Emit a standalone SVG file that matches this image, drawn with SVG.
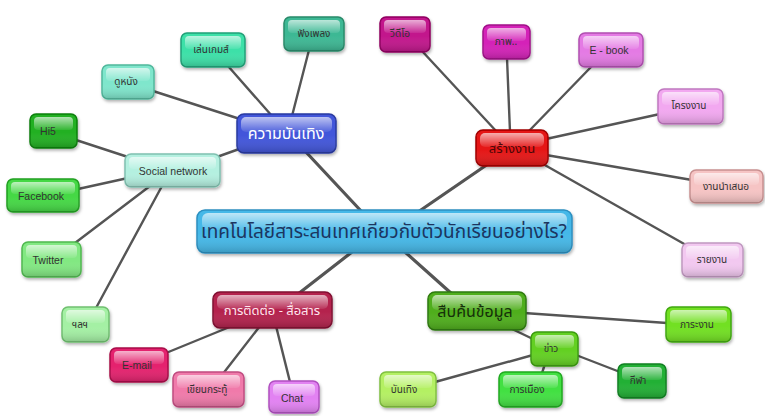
<svg xmlns="http://www.w3.org/2000/svg" width="765" height="416" viewBox="0 0 765 416">
<defs>
<linearGradient id="gloss" x1="0" y1="0" x2="0" y2="1"><stop offset="0" stop-color="#fff" stop-opacity="0.65"/><stop offset="1" stop-color="#fff" stop-opacity="0.08"/></linearGradient>
<linearGradient id="shade" x1="0" y1="0" x2="0" y2="1"><stop offset="0" stop-color="#fff" stop-opacity="0"/><stop offset="0.55" stop-color="#fff" stop-opacity="0"/><stop offset="1" stop-color="#000" stop-opacity="0.18"/></linearGradient>
<filter id="sh" x="-10%" y="-10%" width="130%" height="140%"><feDropShadow dx="1" dy="2" stdDeviation="1.5" flood-color="#000" flood-opacity="0.3"/></filter>
</defs>
<style>
.n rect.b{stroke-width:1.5;filter:url(#sh)}
.n rect.s{fill:url(#shade);stroke:none}
.n rect.g{fill:url(#gloss);stroke:none}
text{font-family:"Noto Sans Thai","Noto Sans","DejaVu Sans","Liberation Sans",sans-serif;text-anchor:middle;dominant-baseline:central}
.lf{font-size:10px;fill:#333}
.lfe{font-size:10.5px;fill:#333;font-family:"Liberation Sans",Arial,sans-serif}
#connectors line{stroke:#555;stroke-linecap:round}
.t1{stroke-width:3.2}
.t2{stroke-width:2.4}
</style>
<rect width="765" height="416" fill="#fff"/>
<g id="connectors">
<line class="t1" x1="362" y1="212" x2="305" y2="151"/>
<line class="t1" x1="418" y1="212" x2="488" y2="164"/>
<line class="t1" x1="352" y1="252" x2="298" y2="294"/>
<line class="t1" x1="405" y1="252" x2="452" y2="294"/>
<line class="t2" x1="292" y1="116" x2="309" y2="50"/>
<line class="t2" x1="272" y1="116" x2="228" y2="66"/>
<line class="t2" x1="240" y1="119" x2="153" y2="91"/>
<line class="t2" x1="242" y1="148" x2="214" y2="158"/>
<line class="t2" x1="128" y1="157" x2="76" y2="140"/>
<line class="t2" x1="128" y1="178" x2="78" y2="189"/>
<line class="t2" x1="150" y1="186" x2="75" y2="243"/>
<line class="t2" x1="162" y1="186" x2="96" y2="308"/>
<line class="t2" x1="497" y1="132" x2="422" y2="51"/>
<line class="t2" x1="510" y1="132" x2="507" y2="58"/>
<line class="t2" x1="528" y1="132" x2="592" y2="66"/>
<line class="t2" x1="546" y1="139" x2="660" y2="114"/>
<line class="t2" x1="546" y1="155" x2="692" y2="180"/>
<line class="t2" x1="543" y1="164" x2="686" y2="245"/>
<line class="t2" x1="232" y1="326" x2="166" y2="353"/>
<line class="t2" x1="260" y1="326" x2="222" y2="375"/>
<line class="t2" x1="276" y1="326" x2="290" y2="382"/>
<line class="t2" x1="524" y1="313" x2="667" y2="323"/>
<line class="t2" x1="510" y1="328" x2="535" y2="340"/>
<line class="t2" x1="533" y1="355" x2="435" y2="382"/>
<line class="t2" x1="545" y1="364" x2="542" y2="373"/>
<line class="t2" x1="576" y1="355" x2="620" y2="372"/>
</g>
<g id="central" class="n"><rect class="b" x="197" y="210" width="375" height="43" rx="8" fill="#45b8e8" stroke="#2b8fc0"/><rect class="s" x="197" y="210" width="375" height="43" rx="8"/><rect class="g" x="202" y="213" width="365" height="17" rx="6"/><text x="384" y="232" font-size="19" fill="#1c3560">เทคโนโลยีสาระสนเทศเกียวกับตัวนักเรียนอย่างไร?</text></g>
<g id="ent" class="n"><rect class="b" x="237" y="114" width="99" height="39" rx="7" fill="#4257da" stroke="#2a3aa0"/><rect class="s" x="237" y="114" width="99" height="39" rx="7"/><rect class="g" x="241" y="117" width="91" height="15" rx="5"/><text x="286" y="134" font-size="16" fill="#fff">ความบันเทิง</text></g>
<g id="create" class="n"><rect class="b" x="476" y="130" width="72" height="36" rx="7" fill="#e51818" stroke="#a00000"/><rect class="s" x="476" y="130" width="72" height="36" rx="7"/><rect class="g" x="480" y="133" width="64" height="14" rx="5"/><text x="512" y="149" font-size="13" fill="#4a0808">สร้างงาน</text></g>
<g id="comm" class="n"><rect class="b" x="213" y="292" width="119" height="36" rx="7" fill="#b4224e" stroke="#801030"/><rect class="s" x="213" y="292" width="119" height="36" rx="7"/><rect class="g" x="217" y="295" width="111" height="14" rx="5"/><text x="272" y="311" font-size="13" fill="#ffe6ee">การติดต่อ - สื่อสาร</text></g>
<g id="search" class="n"><rect class="b" x="428" y="292" width="98" height="38" rx="7" fill="#4fae1e" stroke="#2f7a10"/><rect class="s" x="428" y="292" width="98" height="38" rx="7"/><rect class="g" x="432" y="295" width="90" height="15" rx="5"/><text x="475" y="312" font-size="16" fill="#16300a">สืบค้นข้อมูล</text></g>
<g id="music" class="n"><rect class="b" x="284" y="17" width="60" height="34" rx="6" fill="#3db894" stroke="#2a8a6a"/><rect class="s" x="284" y="17" width="60" height="34" rx="6"/><rect class="g" x="288" y="20" width="52" height="13" rx="4"/><text class="lf" x="314" y="34">ฟังเพลง</text></g>
<g id="game" class="n"><rect class="b" x="181" y="33" width="64" height="34" rx="6" fill="#3ee0a8" stroke="#20a078"/><rect class="s" x="181" y="33" width="64" height="34" rx="6"/><rect class="g" x="185" y="36" width="56" height="13" rx="4"/><text class="lf" x="211" y="50">เล่นเกมส์</text></g>
<g id="movie" class="n"><rect class="b" x="102" y="65" width="52" height="34" rx="6" fill="#7fe6cc" stroke="#50b89c"/><rect class="s" x="102" y="65" width="52" height="34" rx="6"/><rect class="g" x="106" y="68" width="44" height="13" rx="4"/><text class="lf" x="126" y="82">ดูหนัง</text></g>
<g id="social" class="n"><rect class="b" x="125" y="154" width="95" height="33" rx="6" fill="#b4f0e0" stroke="#80c0b0"/><rect class="s" x="125" y="154" width="95" height="33" rx="6"/><rect class="g" x="129" y="157" width="87" height="12" rx="4"/><text class="lfe" x="173" y="171">Social network</text></g>
<g id="hi5" class="n"><rect class="b" x="30" y="114" width="47" height="34" rx="6" fill="#22b022" stroke="#0c800c"/><rect class="s" x="30" y="114" width="47" height="34" rx="6"/><rect class="g" x="34" y="117" width="39" height="13" rx="4"/><text class="lfe" x="48" y="131">Hi5</text></g>
<g id="facebook" class="n"><rect class="b" x="7" y="179" width="72" height="33" rx="6" fill="#44d844" stroke="#20a020"/><rect class="s" x="7" y="179" width="72" height="33" rx="6"/><rect class="g" x="11" y="182" width="64" height="12" rx="4"/><text class="lfe" x="41" y="196">Facebook</text></g>
<g id="twitter" class="n"><rect class="b" x="22" y="242" width="59" height="35" rx="6" fill="#82e882" stroke="#50b850"/><rect class="s" x="22" y="242" width="59" height="35" rx="6"/><rect class="g" x="26" y="245" width="51" height="13" rx="4"/><text class="lfe" x="48" y="260">Twitter</text></g>
<g id="etc" class="n"><rect class="b" x="62" y="307" width="47" height="35" rx="6" fill="#a4f0a4" stroke="#70c070"/><rect class="s" x="62" y="307" width="47" height="35" rx="6"/><rect class="g" x="66" y="310" width="39" height="13" rx="4"/><text class="lf" x="80" y="325">ฯลฯ</text></g>
<g id="video" class="n"><rect class="b" x="380" y="17" width="50" height="35" rx="6" fill="#c2128c" stroke="#900060"/><rect class="s" x="380" y="17" width="50" height="35" rx="6"/><rect class="g" x="384" y="20" width="42" height="13" rx="4"/><text class="lf" x="400" y="34">วีดีโอ</text></g>
<g id="image" class="n"><rect class="b" x="483" y="25" width="47" height="34" rx="6" fill="#d424b8" stroke="#a01088"/><rect class="s" x="483" y="25" width="47" height="34" rx="6"/><rect class="g" x="487" y="28" width="39" height="13" rx="4"/><text class="lf" x="506" y="42">ภาพ..</text></g>
<g id="ebook" class="n"><rect class="b" x="579" y="33" width="64" height="34" rx="6" fill="#e47ae4" stroke="#b050b0"/><rect class="s" x="579" y="33" width="64" height="34" rx="6"/><rect class="g" x="583" y="36" width="56" height="13" rx="4"/><text class="lfe" x="609" y="50">E - book</text></g>
<g id="project" class="n"><rect class="b" x="658" y="89" width="65" height="35" rx="6" fill="#f2a8f0" stroke="#c078c0"/><rect class="s" x="658" y="89" width="65" height="35" rx="6"/><rect class="g" x="662" y="92" width="57" height="13" rx="4"/><text class="lf" x="689" y="106">โครงงาน</text></g>
<g id="present" class="n"><rect class="b" x="690" y="170" width="73" height="33" rx="6" fill="#f6c4c4" stroke="#c89090"/><rect class="s" x="690" y="170" width="73" height="33" rx="6"/><rect class="g" x="694" y="173" width="65" height="12" rx="4"/><text class="lf" x="726" y="187">งานนำเสนอ</text></g>
<g id="report" class="n"><rect class="b" x="682" y="243" width="61" height="34" rx="6" fill="#f2c8f0" stroke="#c098c0"/><rect class="s" x="682" y="243" width="61" height="34" rx="6"/><rect class="g" x="686" y="246" width="53" height="13" rx="4"/><text class="lf" x="712" y="260">รายงาน</text></g>
<g id="email" class="n"><rect class="b" x="110" y="348" width="58" height="34" rx="6" fill="#e4206e" stroke="#a80c48"/><rect class="s" x="110" y="348" width="58" height="34" rx="6"/><rect class="g" x="114" y="351" width="50" height="13" rx="4"/><text class="lfe" x="137" y="365">E-mail</text></g>
<g id="webboard" class="n"><rect class="b" x="173" y="372" width="71" height="35" rx="6" fill="#f07aaa" stroke="#c04c80"/><rect class="s" x="173" y="372" width="71" height="35" rx="6"/><rect class="g" x="177" y="375" width="63" height="13" rx="4"/><text class="lf" x="207" y="390">เขียนกระทู้</text></g>
<g id="chat" class="n"><rect class="b" x="269" y="381" width="50" height="32" rx="6" fill="#e282f2" stroke="#b050c0"/><rect class="s" x="269" y="381" width="50" height="32" rx="6"/><rect class="g" x="273" y="384" width="42" height="12" rx="4"/><text class="lfe" x="292" y="398">Chat</text></g>
<g id="burden" class="n"><rect class="b" x="666" y="307" width="65" height="35" rx="6" fill="#72e020" stroke="#40a810"/><rect class="s" x="666" y="307" width="65" height="35" rx="6"/><rect class="g" x="670" y="310" width="57" height="13" rx="4"/><text class="lf" x="697" y="325">ภาระงาน</text></g>
<g id="news" class="n"><rect class="b" x="531" y="332" width="47" height="34" rx="6" fill="#64d020" stroke="#3a9a10"/><rect class="s" x="531" y="332" width="47" height="34" rx="6"/><rect class="g" x="535" y="335" width="39" height="13" rx="4"/><text class="lf" x="551" y="349">ข่าว</text></g>
<g id="entertain" class="n"><rect class="b" x="380" y="372" width="56" height="35" rx="6" fill="#b4f064" stroke="#80c040"/><rect class="s" x="380" y="372" width="56" height="35" rx="6"/><rect class="g" x="384" y="375" width="48" height="13" rx="4"/><text class="lf" x="404" y="390">บันเทิง</text></g>
<g id="politics" class="n"><rect class="b" x="499" y="372" width="63" height="35" rx="6" fill="#42e042" stroke="#20a820"/><rect class="s" x="499" y="372" width="63" height="35" rx="6"/><rect class="g" x="503" y="375" width="55" height="13" rx="4"/><text class="lf" x="527" y="390">การเมือง</text></g>
<g id="sport" class="n"><rect class="b" x="618" y="364" width="48" height="34" rx="6" fill="#24b034" stroke="#108020"/><rect class="s" x="618" y="364" width="48" height="34" rx="6"/><rect class="g" x="622" y="367" width="40" height="13" rx="4"/><text class="lf" x="638" y="381">กีฬา</text></g>
</svg>
